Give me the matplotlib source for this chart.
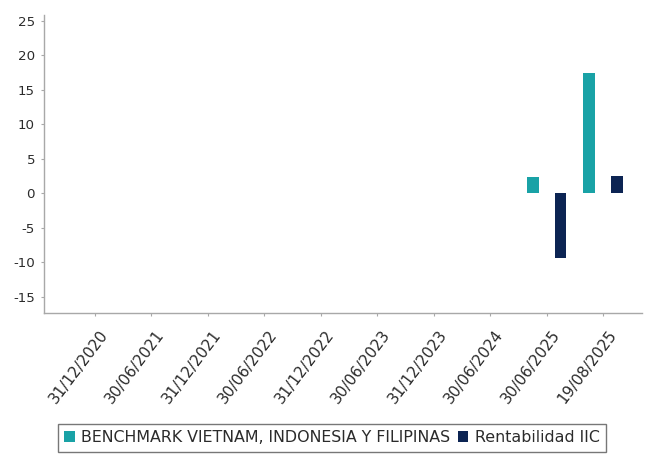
import matplotlib
matplotlib.use("Agg")
import matplotlib.pyplot as plt
import matplotlib.transforms as mtransforms
from matplotlib.patches import Patch
import numpy as np

# categories on the x axis
fechas = ["31/12/2020", "30/06/2021", "31/12/2021", "30/06/2022", "31/12/2022",
          "30/06/2023", "31/12/2023", "30/06/2024", "30/06/2025", "19/08/2025"]
# only the last two periods have values
benchmark = [None, None, None, None, None, None, None, None, 2.4, 17.5]
rentabilidad = [None, None, None, None, None, None, None, None, -9.3, 2.5]

serie_names = ["BENCHMARK VIETNAM, INDONESIA Y FILIPINAS", "Rentabilidad IIC"]
yticks = [-15, -10, -5, 0, 5, 10, 15, 20, 25]

teal = "#19a2a6"
navy = "#0c2453"
axis_gray = "#a8a8a8"
text_col = "#2b2b2b"

fig = plt.figure(figsize=(6.48, 4.55), dpi=100)
ax = fig.add_axes([44/648, 1-313/455, (642-44)/648, (313-15)/455])

x = np.arange(len(fechas))
w = 0.21
off = 0.245
for i in range(len(fechas)):
    if benchmark[i] is not None:
        ax.bar(x[i] - off, benchmark[i], width=w, color=teal, linewidth=0)
    if rentabilidad[i] is not None:
        ax.bar(x[i] + off, rentabilidad[i], width=w, color=navy, linewidth=0)

ax.set_xlim(-0.904, 9.69)
ax.set_ylim(-17.32, 25.83)
ax.set_yticks(yticks)
ax.set_yticklabels([str(v) for v in yticks])
ax.set_xticks(x)
ax.set_xticklabels(fechas, rotation=53, ha="right", va="top", rotation_mode="anchor")

for s in ["top", "right"]:
    ax.spines[s].set_visible(False)
for s in ["left", "bottom"]:
    ax.spines[s].set_color(axis_gray)
    ax.spines[s].set_linewidth(1.0)

ax.tick_params(axis="y", length=2.5, width=0.8, color=axis_gray, labelsize=9.6,
               labelcolor=text_col, pad=4)
ax.tick_params(axis="x", length=2.5, width=0.8, color=axis_gray, labelsize=11,
               labelcolor=text_col, pad=8)

# shift rotated date labels a bit to the right like the original
shift = mtransforms.ScaledTranslation(4/100, 0, fig.dpi_scale_trans)
for lbl in ax.get_xticklabels():
    lbl.set_transform(lbl.get_transform() + shift)

handles = [Patch(facecolor=teal, edgecolor="none"), Patch(facecolor=navy, edgecolor="none")]
leg = fig.legend(handles, serie_names, loc="upper left",
                 bbox_to_anchor=(58/648, 1-424/455), ncol=2, frameon=True,
                 fontsize=11.4, handlelength=0.65, handleheight=0.65,
                 handletextpad=0.4, columnspacing=0.5, borderpad=0.4,
                 fancybox=False, borderaxespad=0)
leg.get_frame().set_edgecolor("#555555")
leg.get_frame().set_linewidth(1.0)
for t in leg.get_texts():
    t.set_color(text_col)

fig.savefig("out.png", dpi=100)
